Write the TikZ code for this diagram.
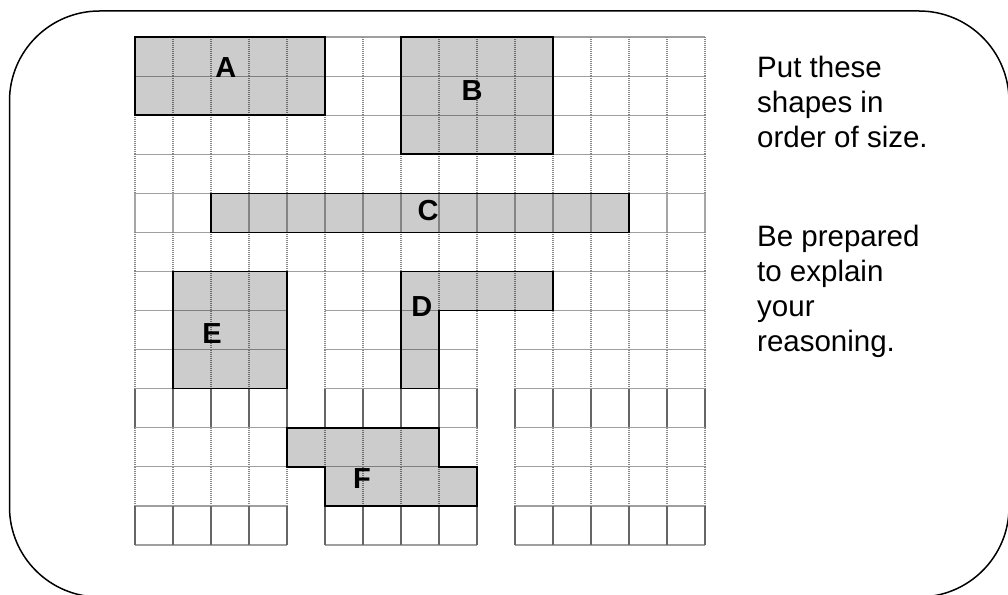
\documentclass[tikz,border=0pt]{standalone}
\usepackage{fontspec}
\setmainfont{Liberation Sans}
\usepackage{tikz}
\usetikzlibrary{positioning}

\begin{document}
\begin{tikzpicture}[x=1pt, y=-1pt,
  hline/.style={draw=gray!75, line width=1.1pt},
  vdot/.style={draw=gray!95, line width=1.8pt, dash pattern=on 1pt off 1pt},
  vsolid/.style={draw=gray!70, line width=1.8pt},
  vthick/.style={draw=black!60, line width=2.4pt},
  block/.style={fill=black, fill opacity=0.2, draw=black, line width=1.5pt},
  lbl/.style={font=\fontsize{29}{33}\selectfont\bfseries, inner sep=0pt},
  note/.style={font=\fontsize{29.5}{35}\selectfont, align=left, anchor=north west, inner sep=0pt}]

  \useasboundingbox (0,0) rectangle (1008,594);

  % Outer frame
  \draw[line width=1.5pt, rounded corners=90pt] (9.5,11) rectangle (1009,597);

  \begin{scope}[shift={(135,37)}, x=38pt, y=-39.08pt]
    % Grid cells (row / first col / last col / vertical line style)
    \foreach \r/\a/\b/\vs in {0/0/14/vdot, 1/0/14/vdot, 2/0/14/vdot, 3/0/14/vdot,
        4/0/14/vsolid, 5/0/14/vdot,
        6/0/3/vdot, 6/5/14/vdot,
        7/0/3/vdot, 7/5/8/vdot, 7/10/14/vdot,
        8/0/3/vdot, 8/5/8/vdot, 8/10/14/vdot,
        9/0/3/vthick, 9/5/8/vthick, 9/10/14/vthick,
        10/0/8/vdot, 10/10/14/vdot,
        11/0/3/vdot, 11/5/8/vdot, 11/10/14/vdot,
        12/0/3/vthick, 12/5/8/vthick, 12/10/14/vthick} {
      \pgfmathtruncatemacro\e{\b+1}
      \draw[hline] (\a,\r) -- (\e,\r) (\a,\r+1) -- (\e,\r+1);
      \foreach \c in {\a,...,\e}
        \draw[\vs] (\c,\r) -- (\c,\r+1);
    }

    % Shapes
    \filldraw[block] (0,0) rectangle (5,2);
    \filldraw[block] (7,0) rectangle (11,3);
    \filldraw[block] (2,4) rectangle (13,5);
    \filldraw[block] (7,6) -- (11,6) -- (11,7) -- (8,7) -- (8,9) -- (7,9) -- cycle;
    \filldraw[block] (1,6) rectangle (4,9);
    \filldraw[block] (4,10) -- (8,10) -- (8,11) -- (9,11) -- (9,12) -- (5,12) -- (5,11) -- (4,11) -- cycle;

    % Shape labels
    \node[lbl] (labA) at (2.39,0.79) {A};
    \node[lbl] (labB) at (8.87,1.36) {B};
    \node[lbl] (labC) at (7.71,4.43) {C};
    \node[lbl] (labD) at (7.55,6.90) {D};
    \node[lbl] (labE) at (2.03,7.59) {E};
    \node[lbl] (labF) at (5.97,11.30) {F};
  \end{scope}

  % Instructions
  \node[note] (task) at (757,56) {Put these\\shapes in\\order of size.};
  \node[note] (reason) at (757,224.5) {Be prepared\\to explain\\your\\reasoning.};

\end{tikzpicture}
\end{document}
